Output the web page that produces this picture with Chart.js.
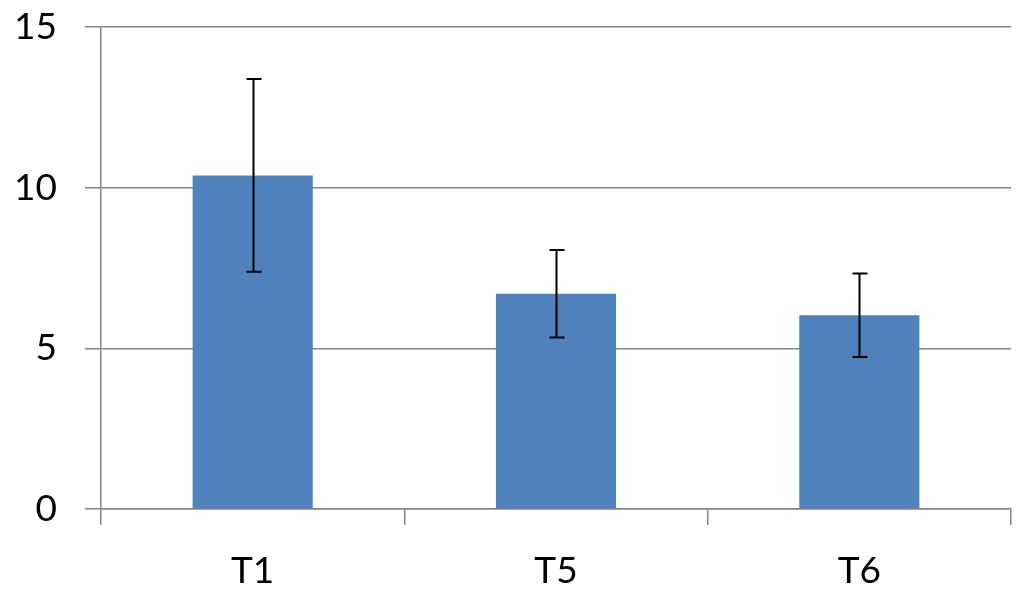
<!DOCTYPE html>
<html>
<head>
<meta charset="utf-8">
<script src="https://cdn.jsdelivr.net/npm/chart.js@4/dist/chart.umd.min.js"></script>
<style>
  html, body { margin: 0; padding: 0; background: #fff; }
  #wrap { width: 1024px; height: 604px; }
</style>
</head>
<body>
<div id="wrap"><canvas id="chart" width="1024" height="604"></canvas></div>
<script>
// data
const categories = ['T1', 'T5', 'T6'];
const means = [10.38, 6.70, 6.03];
const errors = [3.0, 1.36, 1.30];
const yTicks = [0, 5, 10, 15];

const axisGray = '#868686';

// draw the black error bars from the y scale
const errorBars = {
  id: 'errorBars',
  afterDatasetsDraw(chart) {
    const ctx = chart.ctx;
    const y = chart.scales.y;
    const meta = chart.getDatasetMeta(0);
    ctx.save();
    ctx.strokeStyle = '#000';
    ctx.lineWidth = 2;
    meta.data.forEach((bar, i) => {
      const top = y.getPixelForValue(means[i] + errors[i]);
      const bot = y.getPixelForValue(means[i] - errors[i]);
      const x = Math.round(bar.x) + 0.5;
      ctx.beginPath();
      ctx.moveTo(x, top);
      ctx.lineTo(x, bot);
      ctx.moveTo(x - 7, top);
      ctx.lineTo(x + 8, top);
      ctx.moveTo(x - 7, bot);
      ctx.lineTo(x + 8, bot);
      ctx.stroke();
    });
    ctx.restore();
  }
};

new Chart(document.getElementById('chart').getContext('2d'), {
  type: 'bar',
  data: {
    labels: categories,
    datasets: [{
      data: means,
      backgroundColor: '#4F81BD',
      borderWidth: 0,
      categoryPercentage: 1,
      barPercentage: 0.396
    }]
  },
  options: {
    responsive: false,
    animation: false,
    layout: { padding: { top: 27, right: 13, left: 0, bottom: 0 } },
    plugins: { legend: { display: false }, tooltip: { enabled: false } },
    scales: {
      x: {
        offset: true,
        grid: {
          offset: true,
          drawOnChartArea: false,
          drawTicks: true,
          tickLength: 16,
          color: axisGray,
          lineWidth: 1.5
        },
        border: { display: true, color: axisGray, width: 1.5 },
        ticks: {
          color: '#000',
          padding: 24,
          font: { family: 'Lato', size: 37 }
        },
        afterFit(scale) { scale.height = 95; }
      },
      y: {
        min: 0,
        max: 15,
        afterBuildTicks(scale) { scale.ticks = yTicks.map(v => ({ value: v })); },
        grid: {
          color: axisGray,
          lineWidth: 1.5,
          drawTicks: true,
          tickLength: 16
        },
        border: { display: true, color: axisGray, width: 1.5 },
        ticks: {
          color: '#000',
          padding: 28,
          font: { family: 'Lato', size: 37 }
        },
        afterFit(scale) {
          scale.width = 101;
          scale.paddingTop = 0;
          scale.paddingBottom = 0;
        }
      }
    }
  },
  plugins: [errorBars]
});
</script>
</body>
</html>
